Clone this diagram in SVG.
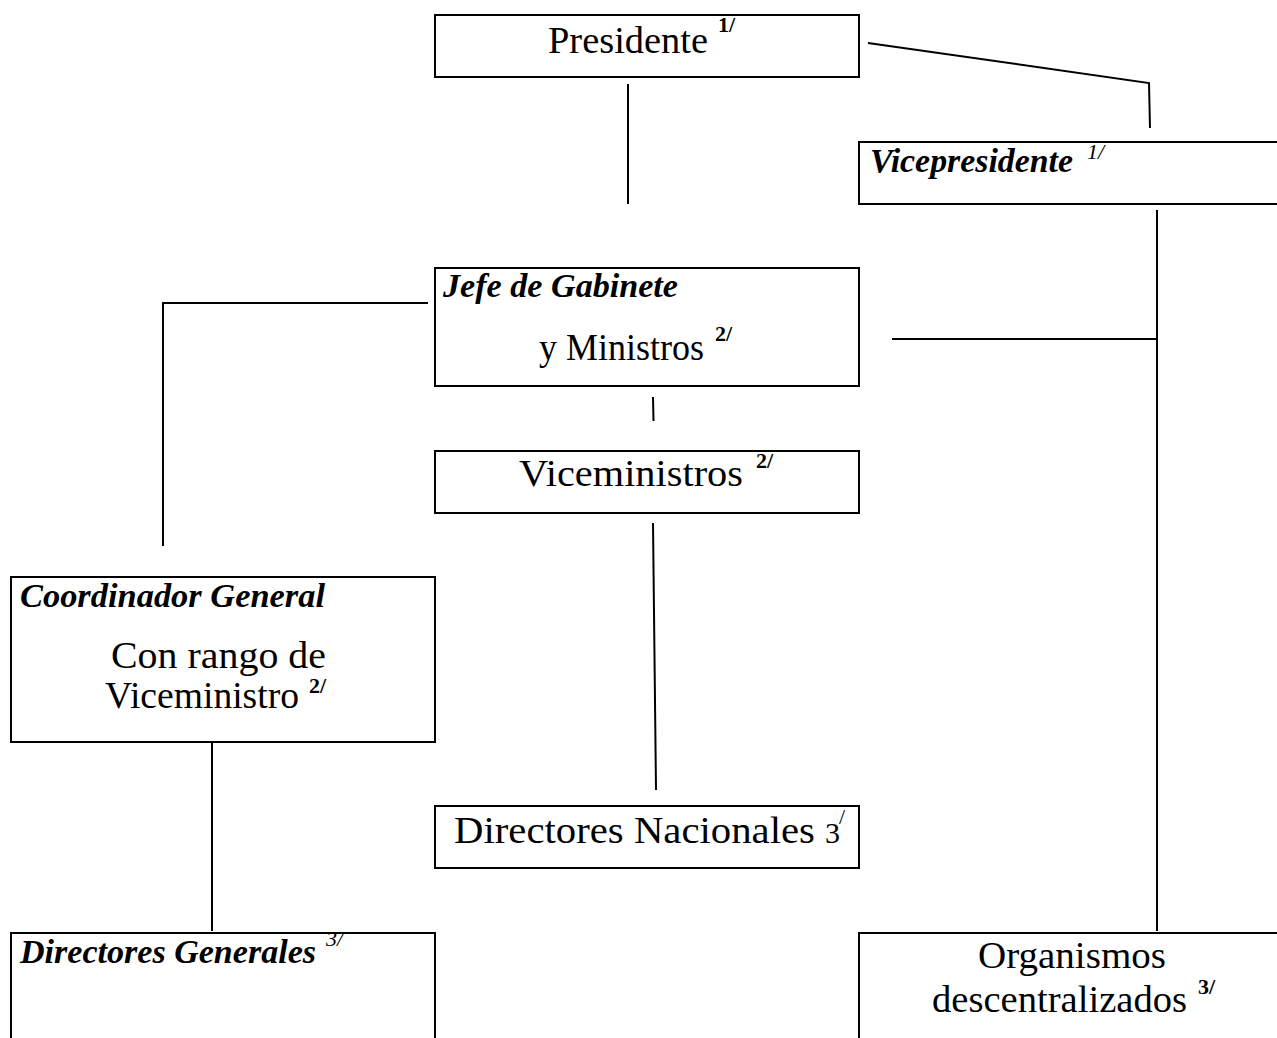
<svg xmlns="http://www.w3.org/2000/svg" width="1277" height="1038" viewBox="0 0 1277 1038">
<style>
.box{fill:#fff;stroke:#000;stroke-width:2}
.ln{fill:none;stroke:#000;stroke-width:2}
.t{font-family:"Liberation Serif","Times New Roman",serif;font-size:38px;fill:#000}
.bi{font-family:"Liberation Serif","Times New Roman",serif;font-size:34.5px;font-weight:bold;font-style:italic;fill:#000}
.sb{font-family:"Liberation Serif","Times New Roman",serif;font-size:22px;font-weight:bold;fill:#000}
.si{font-family:"Liberation Serif","Times New Roman",serif;font-size:22px;font-style:italic;fill:#000}
</style>
<rect width="1277" height="1038" fill="#fff"/>
<g id="connectors">
<line class="ln" x1="628" y1="84" x2="628" y2="204"/>
<polyline class="ln" points="868,43 1149,83 1150,128"/>
<line class="ln" x1="1157" y1="210" x2="1157" y2="931"/>
<line class="ln" x1="892" y1="339" x2="1157" y2="339"/>
<polyline class="ln" points="428,303 163,303 163,546"/>
<line class="ln" x1="653" y1="397" x2="653.5" y2="421"/>
<line class="ln" x1="653" y1="523" x2="656" y2="790"/>
<line class="ln" x1="212" y1="742" x2="212" y2="931"/>
</g>
<g id="presidente">
<rect class="box" x="435" y="15" width="424" height="62"/>
<text class="t" x="548" y="53" textLength="160" lengthAdjust="spacingAndGlyphs">Presidente</text>
<text class="sb" x="718" y="32">1/</text>
</g>
<g id="vicepresidente">
<rect class="box" x="859" y="142" width="430" height="62"/>
<text class="bi" x="870" y="172" textLength="203" lengthAdjust="spacingAndGlyphs">Vicepresidente</text>
<text class="si" x="1087" y="159">1/</text>
</g>
<g id="jefe">
<rect class="box" x="435" y="268" width="424" height="118"/>
<text class="bi" x="443" y="297" textLength="235" lengthAdjust="spacingAndGlyphs">Jefe de Gabinete</text>
<text class="t" x="539" y="360" textLength="165" lengthAdjust="spacingAndGlyphs">y Ministros</text>
<text class="sb" x="715" y="341">2/</text>
</g>
<g id="viceministros">
<rect class="box" x="435" y="451" width="424" height="62"/>
<text class="t" x="519" y="486" textLength="224" lengthAdjust="spacingAndGlyphs">Viceministros</text>
<text class="sb" x="756" y="468">2/</text>
</g>
<g id="coordinador">
<rect class="box" x="11" y="577" width="424" height="165"/>
<text class="bi" x="20" y="607" textLength="305" lengthAdjust="spacingAndGlyphs">Coordinador General</text>
<text class="t" x="111" y="668" textLength="215" lengthAdjust="spacingAndGlyphs">Con rango de</text>
<text class="t" x="105" y="708" textLength="194" lengthAdjust="spacingAndGlyphs">Viceministro</text>
<text class="sb" x="309" y="693">2/</text>
</g>
<g id="directores-nacionales">
<rect class="box" x="435" y="806" width="424" height="62"/>
<text class="t" x="454" y="843" textLength="361" lengthAdjust="spacingAndGlyphs">Directores Nacionales</text>
<text class="t" x="825" y="843" style="font-size:30px">3</text>
<text class="si" x="839" y="824" style="font-style:normal">/</text>
</g>
<g id="directores-generales">
<rect class="box" x="11" y="933" width="424" height="120"/>
<text class="bi" x="20" y="963" textLength="296" lengthAdjust="spacingAndGlyphs">Directores Generales</text>
<text class="si" x="326" y="946">3/</text>
</g>
<g id="organismos">
<rect class="box" x="859" y="933" width="430" height="120"/>
<text class="t" x="978" y="968" textLength="188" lengthAdjust="spacingAndGlyphs">Organismos</text>
<text class="t" x="932" y="1012" textLength="255" lengthAdjust="spacingAndGlyphs">descentralizados</text>
<text class="sb" x="1198" y="994">3/</text>
</g>
</svg>
